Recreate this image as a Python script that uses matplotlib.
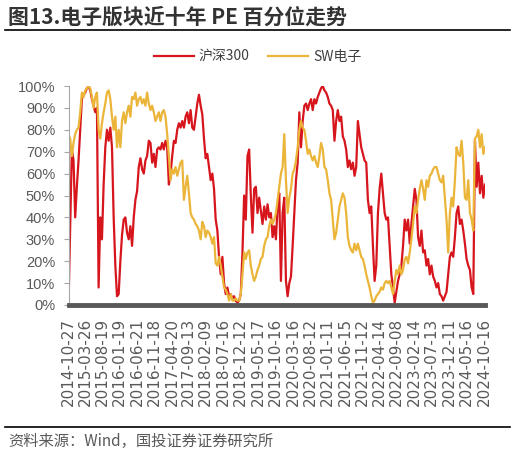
import numpy as np
import pandas as pd
import matplotlib
matplotlib.use("Agg")
import matplotlib.pyplot as plt
from matplotlib.ticker import PercentFormatter, MultipleLocator
from matplotlib.lines import Line2D

plt.rcParams['font.family'] = ['Noto Sans CJK SC', 'DejaVu Sans']

# 数据区间（按图读取，约每两周一个点）
start_date = "2014-10-27"
end_date = "2024-10-22"

tick_dates = ["2014-10-27", "2015-03-26", "2015-08-19", "2016-01-19", "2016-06-21",
              "2016-11-18", "2017-04-20", "2017-09-13", "2018-02-09", "2018-07-16",
              "2018-12-12", "2019-05-17", "2019-10-16", "2020-03-16", "2020-08-12",
              "2021-01-11", "2021-06-15", "2021-11-12", "2022-04-14", "2022-09-08",
              "2023-02-14", "2023-07-13", "2023-12-11", "2024-05-16", "2024-10-16"]

# 沪深300 PE 百分位 (%)
hs300 = [0, 35, 71, 66, 40, 54, 66, 80, 94, 96, 97, 99, 100, 98, 94, 91, 88, 90, 8, 40,
         30, 55, 72, 80, 75, 81, 72, 40, 18, 4, 5, 20, 32, 39, 40, 33, 30, 36, 27, 40,
         48, 52, 63, 67, 62, 60, 66, 68, 75, 74, 65, 69, 63, 71, 72, 71, 74, 71, 75, 72,
         55,
         60, 68, 75, 74, 80, 83, 81, 84, 81, 86, 88, 83, 89, 81, 80, 86, 92, 96, 91, 87,
         76, 67, 69, 63, 57, 60, 53, 39, 34, 22, 14, 22, 10, 5, 8, 4, 5, 3, 4, 2,
         1, 2, 5, 24, 50, 39, 68, 71, 50, 33, 53, 54, 42, 49, 43, 37, 45, 39, 46, 40,
         42, 31, 36,
         30, 45, 51, 11, 42, 49, 11, 4, 10, 13, 27, 42, 57, 65, 88, 72, 84, 91, 92, 89,
         92, 94, 89, 94, 92, 95, 97, 99, 100, 98, 97, 95, 92, 91, 89, 75, 84, 89, 84, 86,
         77, 75, 71, 63, 66, 62, 65, 59, 63, 84, 78, 72, 69, 66, 65, 48, 42, 45, 27, 11,
         18, 42, 53,
         60, 51, 42, 39, 40, 27, 14, 8, 1, 6, 11, 14, 18, 27, 39, 34, 39, 28, 37, 45,
         53, 48, 31, 27, 34, 24, 25, 18, 21, 14, 18, 13, 11, 8, 10, 5, 4, 2, 4, 6,
         14, 22, 24, 22, 31, 42, 45, 37, 39, 34, 28, 21, 18, 16, 8, 5, 75, 54, 65, 51,
         59, 49, 55]

# SW电子 PE 百分位 (%)
sw_elec = [78, 76, 68, 74, 78, 80, 81, 88, 97, 95, 98, 99, 100, 99, 95, 90, 95, 97, 80, 76,
           83, 88, 92, 97, 98, 94, 86, 80, 86, 72, 80, 72, 84, 88, 83, 88, 91, 86, 95, 94,
           97, 91, 94, 95, 92, 94, 91, 97, 92, 89, 91, 88, 84, 86, 88, 84, 88, 89, 86, 78,
           68,
           57, 62, 60, 63, 59, 62, 65, 66, 48, 54, 59, 51, 42, 40, 39, 37, 36, 34, 30, 38,
           36, 31, 34, 33, 31, 28, 31, 19, 18, 22, 18, 13, 8, 7, 5, 2, 5, 2, 2, 3,
           2, 2, 5, 14, 24, 21, 24, 25, 18, 14, 11, 13, 16, 18, 21, 22, 27, 30, 31, 36,
           39, 37, 39,
           42, 48, 54, 60, 63, 78, 57, 42, 49, 53, 60, 62, 66, 72, 80, 84, 81, 80, 75, 69,
           71, 68, 66, 68, 65, 63, 68, 74, 71, 63, 62, 57, 51, 48, 39, 30, 33, 39, 45, 48,
           51, 49, 42, 31, 27, 25, 24, 28, 25, 28, 25, 22, 21, 18, 14, 11, 8, 4, 1, 2,
           4, 5, 6,
           8, 7, 10, 11, 10, 11, 8, 5, 11, 16, 14, 18, 14, 16, 21, 22, 19, 24, 30, 37,
           45, 42, 48, 53, 57, 53, 48, 57, 54, 59, 60, 62, 63, 63, 60, 57, 56, 59, 49, 39,
           24, 42, 49, 45, 57, 72, 69, 68, 75, 65, 49, 48, 57, 42, 39, 34, 76, 77, 80, 72,
           78, 69, 72]

dates = pd.date_range(start_date, end_date, periods=len(hs300))

red = "#D7151D"
yellow = "#EBB539"
grey = "#595959"

fig = plt.figure(figsize=(5.15, 4.53), dpi=100)
ax = fig.add_axes([68.5/515, 1-305/453, 416.5/515, 219/453])

ax.plot(dates, hs300, color=red, lw=1.6, label="沪深300")
ax.plot(dates, sw_elec, color=yellow, lw=1.6, label="SW电子")

ax.set_xlim(dates[0], dates[-1])
ax.set_ylim(0, 100)
ax.yaxis.set_major_locator(MultipleLocator(10))
ax.yaxis.set_major_formatter(PercentFormatter(100, decimals=0))

ax.set_xticks(pd.to_datetime(tick_dates))
ax.set_xticklabels(tick_dates, rotation=90, family='DejaVu Sans', fontsize=11, color=grey)
for lab in ax.get_yticklabels():
    lab.set_family('Liberation Sans')

for s in ['top', 'right']:
    ax.spines[s].set_visible(False)
ax.spines['left'].set_color('#A6A6A6')
ax.spines['bottom'].set_color(grey)
ax.spines['bottom'].set_linewidth(3.5)
ax.tick_params(axis='x', length=0, pad=9)
ax.tick_params(axis='y', length=3.6, color='#A6A6A6', labelsize=10.5, labelcolor=grey, pad=6)

fig.legend(loc='center', bbox_to_anchor=(0.5, 1-57/453), ncol=2, frameon=False,
           fontsize=10, handlelength=2.9, columnspacing=1.3, handletextpad=0.35,
           labelcolor='#404040')

fig.text(8/515, 1-17/453, "图13.电子版块近十年 PE 百分位走势", fontsize=15,
         fontweight='bold', va='center', ha='left', color='#333333')
fig.add_artist(Line2D([5/515, 510/515], [1-29.5/453]*2, color='black', lw=1.2))
fig.add_artist(Line2D([5/515, 510/515], [1-427/453]*2, color='black', lw=1.2))
fig.text(8/515, 1-441/453, "资料来源：Wind，国投证券证券研究所", fontsize=11,
         va='center', ha='left', color=grey, style='italic')

fig.savefig("out.png", dpi=100)
